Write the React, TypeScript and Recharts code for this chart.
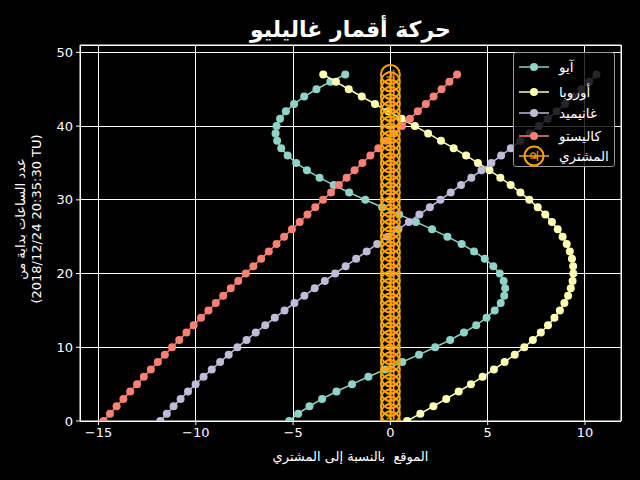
import { CartesianGrid, ReferenceLine, Scatter, ScatterChart, XAxis, YAxis } from 'recharts';

// hours since 2018/12/24 20:35:30 TU
const HOURS = [
  0, 1, 2, 3, 4, 5, 6, 7, 8, 9, 10, 11, 12, 13, 14, 15, 16, 17, 18, 19, 20, 21, 22, 23,
  24, 25, 26, 27, 28, 29, 30, 31, 32, 33, 34, 35, 36, 37, 38, 39, 40, 41, 42, 43, 44, 45, 46, 47,
];

// apparent position relative to Jupiter (Jupiter radii)
const IO = [
  -5.2, -4.74, -4.16, -3.51, -2.77, -1.97, -1.13, -0.26, 0.61, 1.47, 2.3, 3.07, 3.78, 4.41, 4.94, 5.36,
  5.67, 5.85, 5.9, 5.82, 5.62, 5.29, 4.85, 4.3, 3.66, 2.93, 2.14, 1.31, 0.45, -0.42, -1.29, -2.12,
  -2.91, -3.64, -4.29, -4.84, -5.28, -5.61, -5.82, -5.9, -5.85, -5.67, -5.37, -4.95, -4.43, -3.8, -3.09, -2.32,
];
const EUROPA = [
  0.86, 1.54, 2.21, 2.87, 3.51, 4.14, 4.74, 5.32, 5.87, 6.39, 6.88, 7.32, 7.73, 8.1, 8.43, 8.71,
  8.94, 9.13, 9.27, 9.36, 9.4, 9.39, 9.33, 9.22, 9.06, 8.85, 8.6, 8.3, 7.96, 7.57, 7.14, 6.68,
  6.18, 5.65, 5.09, 4.5, 3.89, 3.25, 2.6, 1.94, 1.26, 0.58, -0.11, -0.79, -1.47, -2.14, -2.8, -3.45,
];
const GANYMEDE = [
  -11.82, -11.49, -11.14, -10.78, -10.4, -10.01, -9.6, -9.18, -8.75, -8.31, -7.86, -7.39, -6.92, -6.43, -5.94, -5.44,
  -4.93, -4.42, -3.89, -3.37, -2.84, -2.3, -1.76, -1.22, -0.68, -0.14, 0.41, 0.95, 1.49, 2.03, 2.57, 3.1,
  3.63, 4.16, 4.68, 5.19, 5.69, 6.19, 6.68, 7.16, 7.63, 8.09, 8.54, 8.97, 9.4, 9.81, 10.21, 10.59,
];
const CALLISTO = [
  -14.74, -14.41, -14.07, -13.72, -13.37, -13.02, -12.67, -12.31, -11.95, -11.59, -11.22, -10.85, -10.48, -10.11, -9.73, -9.35,
  -8.97, -8.59, -8.2, -7.82, -7.43, -7.04, -6.64, -6.25, -5.85, -5.46, -5.06, -4.66, -4.26, -3.86, -3.46, -3.05,
  -2.65, -2.25, -1.84, -1.44, -1.03, -0.62, -0.22, 0.19, 0.6, 1.0, 1.41, 1.82, 2.22, 2.63, 3.03, 3.43,
];
const JUPITER = [
  0, 0, 0, 0, 0, 0, 0, 0, 0, 0, 0, 0, 0, 0, 0, 0, 0, 0, 0, 0, 0, 0, 0, 0,
  0, 0, 0, 0, 0, 0, 0, 0, 0, 0, 0, 0, 0, 0, 0, 0, 0, 0, 0, 0, 0, 0, 0, 0,
];

const MOONS = [
  { key: 'io', label: 'آيو', color: '#8dd3c7', values: IO },
  { key: 'europa', label: 'أوروبا', color: '#feffb3', values: EUROPA },
  { key: 'ganymede', label: 'غانيميد', color: '#bfbbd9', values: GANYMEDE },
  { key: 'callisto', label: 'كاليستو', color: '#fa8174', values: CALLISTO },
];
const JUPITER_LABEL = 'المشتري';
const JUPITER_COLOR = '#ffa500';
const JUPITER_GLYPH = '♃';

const TITLE = 'حركة أقمار غاليليو';
const X_LABEL = 'الموقع  بالنسبة إلى المشتري';
const Y_LABEL_1 = 'عدد الساعات بداية من';
const Y_LABEL_2 = '(2018/12/24 20:35:30 TU)';

const X_TICKS = [-15, -10, -5, 0, 5, 10];
const Y_TICKS = [0, 10, 20, 30, 40, 50];
const X_MIN = -15.95;
const X_MAX = 11.85;
const Y_MAX = 51;

const FONT = '"DejaVu Sans", sans-serif';
const LEGEND_ROWS = [14, 38.5, 59.5, 83, 103];

const toPoints = (values: number[]) => values.map((x, i) => ({ x, t: HOURS[i] }));
const fmt = (v: number) => String(v).replace('-', '\u2212');

function JupiterMark({ cx, cy }: { cx: number; cy: number }) {
  return (
    <g>
      <circle cx={cx} cy={cy} r={9.5} fill="none" stroke={JUPITER_COLOR} strokeWidth={2} />
      <text
        x={cx}
        y={cy}
        dy="0.36em"
        textAnchor="middle"
        fontSize={14}
        fontWeight="bold"
        fill={JUPITER_COLOR}
        fontFamily={FONT}
      >
        {JUPITER_GLYPH}
      </text>
    </g>
  );
}

function LegendBox() {
  const rows = [
    ...MOONS.map((m) => ({ label: m.label, color: m.color, jupiter: false })),
    { label: JUPITER_LABEL, color: JUPITER_COLOR, jupiter: true },
  ];
  return (
    <div
      style={{
        position: 'absolute',
        left: 513,
        top: 52,
        width: 102,
        height: 115,
        boxSizing: 'border-box',
        border: '1px solid #9a9a9a',
        borderRadius: 3,
        background: 'rgba(0,0,0,0.8)',
      }}
    >
      {rows.map((r, i) => (
        <div key={r.label} style={{ position: 'absolute', left: 0, top: LEGEND_ROWS[i] - 12, height: 24, width: 100 }}>
          <svg width={40} height={24} style={{ position: 'absolute', left: 0, top: 0 }}>
            <line x1={5} x2={35} y1={12} y2={12} stroke={r.color} strokeWidth={1.5} />
            {r.jupiter ? (
              <JupiterMark cx={20} cy={12} />
            ) : (
              <circle cx={20} cy={12} r={4} fill={r.color} />
            )}
          </svg>
          <span
            style={{
              position: 'absolute',
              left: 45,
              top: 3,
              lineHeight: '18px',
              fontSize: 13.5,
              color: '#fff',
              whiteSpace: 'nowrap',
            }}
          >
            {r.label}
          </span>
        </div>
      ))}
    </div>
  );
}

export default function App() {
  return (
    <div
      style={{
        position: 'absolute',
        left: 0,
        top: 0,
        width: 640,
        height: 480,
        background: '#000',
        fontFamily: FONT,
        color: '#fff',
        overflow: 'hidden',
      }}
    >
      <ScatterChart width={640} height={480} margin={{ top: 45, right: 19, bottom: 0, left: 0 }}>
        <CartesianGrid stroke="#ffffff" strokeWidth={1} shapeRendering="crispEdges" />
        <XAxis
          type="number"
          dataKey="x"
          domain={[X_MIN, X_MAX]}
          ticks={X_TICKS}
          allowDataOverflow
          height={59}
          tick={{ fill: '#fff', fontSize: 13, fontFamily: FONT }}
          tickFormatter={fmt}
          tickSize={4}
          tickMargin={3}
          axisLine={{ stroke: '#fff' }}
          tickLine={{ stroke: '#fff' }}
        />
        <YAxis
          type="number"
          dataKey="t"
          domain={[0, Y_MAX]}
          ticks={Y_TICKS}
          allowDataOverflow
          width={80}
          tick={{ fill: '#fff', fontSize: 13, fontFamily: FONT }}
          tickSize={4}
          tickMargin={3}
          axisLine={{ stroke: '#fff' }}
          tickLine={{ stroke: '#fff' }}
        />
        <ReferenceLine y={Y_MAX} stroke="#fff" />
        <ReferenceLine x={X_MAX} stroke="#fff" />
        {MOONS.map((m) => (
          <Scatter
            key={m.key}
            name={m.label}
            data={toPoints(m.values)}
            fill={m.color}
            line={{ stroke: m.color, strokeWidth: 1.5 }}
            shape={(p: any) => <circle cx={p.cx} cy={p.cy} r={4} fill={m.color} />}
            isAnimationActive={false}
          />
        ))}
        <Scatter
          name={JUPITER_LABEL}
          data={toPoints(JUPITER)}
          fill={JUPITER_COLOR}
          line={{ stroke: JUPITER_COLOR, strokeWidth: 2 }}
          shape={(p: any) => <JupiterMark cx={p.cx} cy={p.cy} />}
          isAnimationActive={false}
        />
      </ScatterChart>

      <div
        style={{
          position: 'absolute',
          left: 80,
          width: 541,
          top: 18,
          lineHeight: '24px',
          textAlign: 'center',
          fontSize: 22,
          fontWeight: 'bold',
        }}
      >
        {TITLE}
      </div>
      <div
        style={{
          position: 'absolute',
          left: 80,
          width: 541,
          top: 448,
          lineHeight: '18px',
          textAlign: 'center',
          fontSize: 13,
          whiteSpace: 'pre',
        }}
      >
        {X_LABEL}
      </div>
      <div
        style={{
          position: 'absolute',
          left: 29 - 110,
          top: 219 - 16,
          width: 220,
          lineHeight: '16px',
          textAlign: 'center',
          fontSize: 13,
          transform: 'rotate(-90deg)',
          transformOrigin: 'center',
          whiteSpace: 'nowrap',
        }}
      >
        <div>{Y_LABEL_1}</div>
        <div>{Y_LABEL_2}</div>
      </div>
      <LegendBox />
    </div>
  );
}
